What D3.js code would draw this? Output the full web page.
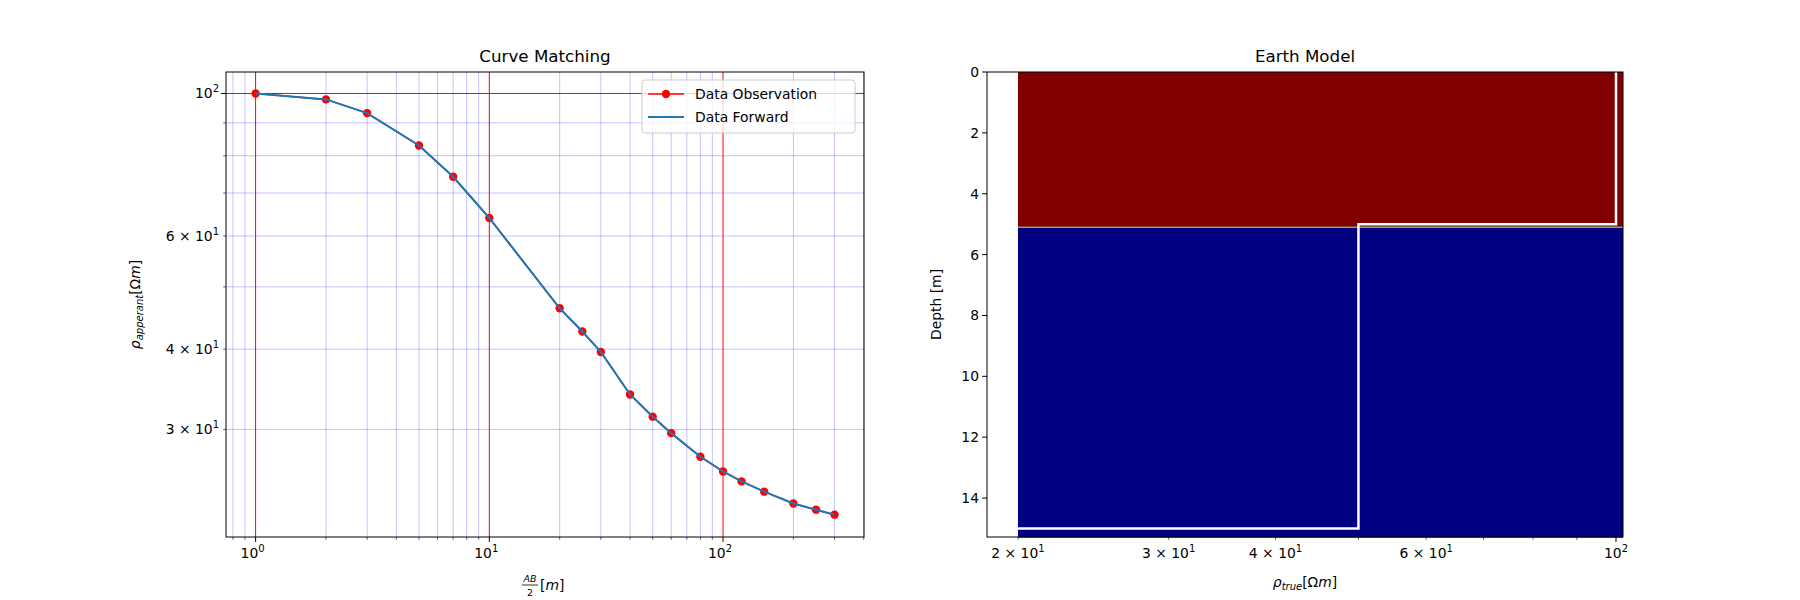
<!DOCTYPE html>
<html>
<head>
<meta charset="utf-8">
<script src="https://cdn.jsdelivr.net/npm/d3@7"></script>
<style>
  body { margin: 0; background: #fff; }
  text { font-family: "DejaVu Sans", sans-serif; }
</style>
</head>
<body>
<div id="canvas"></div>
<script>
// sounding data
const abHalf = [1, 2, 3, 5, 7, 10, 20, 25, 30, 40, 50, 60, 80, 100, 120, 150, 200, 250, 300];
const rhoObs = [100, 97.9, 93.2, 83.0, 74.2, 64.0, 46.3, 42.6, 39.6, 34.0, 31.4, 29.6, 27.2, 25.8, 24.9, 24.0, 23.0, 22.5, 22.1];
const rhoFwd = [100, 97.9, 93.2, 83.0, 74.2, 64.0, 46.3, 42.6, 39.6, 34.0, 31.4, 29.6, 27.2, 25.8, 24.9, 24.0, 23.0, 22.5, 22.1];

// earth model
const layerTop = [0, 5.1];
const layerBottom = [5.1, 15.3];
const layerColor = ["#800000", "#000080"];
const modelRho = [100, 100, 50, 50, 20];
const modelDepth = [0, 5, 5, 15, 15];

const leftXMinor = [0.8, 0.9, 2, 3, 4, 5, 6, 7, 8, 9, 20, 30, 40, 50, 60, 70, 80, 90, 200, 300, 400];
const leftXMajor = [1, 10, 100];
const leftYMinor = [30, 40, 50, 60, 70, 80, 90];
const leftYLabels = [[100, "10", "2", ""], [60, "10", "1", "6 × "], [40, "10", "1", "4 × "], [30, "10", "1", "3 × "]];
const rightXTicks = [20, 30, 40, 50, 60, 70, 80, 90, 100];
const rightXLabels = [[20, "2 × "], [30, "3 × "], [40, "4 × "], [60, "6 × "], [100, ""]];
const depthTicks = [0, 2, 4, 6, 8, 10, 12, 14];

const svg = d3.select("#canvas").append("svg").attr("width", 1800).attr("height", 600);

function supLabel(g, x, y, pre, base, sup, anchor) {
  const t = g.append("text").attr("x", x).attr("y", y).attr("text-anchor", anchor)
    .attr("font-size", 13.9).attr("fill", "#000");
  t.append("tspan").text(pre + base);
  t.append("tspan").attr("dy", -6).attr("font-size", 10).text(sup);
}

// ---------- left: curve matching ----------
const L = {x0: 226, x1: 864, y0: 72, y1: 537};
const x = d3.scaleLog().domain([0.747, 401]).range([L.x0, L.x1]);
const y = d3.scaleLog().domain([20.4, 108]).range([L.y1, L.y0]);
const g1 = svg.append("g");

g1.selectAll(".vmin").data(leftXMinor).enter().append("line")
  .attr("x1", d => x(d)).attr("x2", d => x(d)).attr("y1", L.y0).attr("y2", L.y1)
  .style("stroke", "blue").style("stroke-opacity", 0.3).style("stroke-width", 0.8);
g1.selectAll(".hmin").data(leftYMinor).enter().append("line")
  .attr("y1", d => y(d)).attr("y2", d => y(d)).attr("x1", L.x0).attr("x2", L.x1)
  .style("stroke", "blue").style("stroke-opacity", 0.3).style("stroke-width", 0.8);
g1.selectAll(".vmaj").data(leftXMajor).enter().append("line")
  .attr("x1", d => x(d)).attr("x2", d => x(d)).attr("y1", L.y0).attr("y2", L.y1)
  .style("stroke", "red").style("stroke-width", 1);
g1.append("line").attr("x1", L.x0).attr("x2", L.x1).attr("y1", y(100)).attr("y2", y(100))
  .style("stroke", "red").style("stroke-width", 1);

const line = d3.line().x(d => x(d[0])).y(d => y(d[1]));
g1.append("path").datum(abHalf.map((d, i) => [d, rhoObs[i]])).attr("d", line)
  .style("fill", "none").style("stroke", "red").style("stroke-width", 1.5);
g1.selectAll(".dot").data(abHalf).enter().append("circle")
  .attr("cx", d => x(d)).attr("cy", (d, i) => y(rhoObs[i])).attr("r", 4.2).style("fill", "red");
g1.append("path").datum(abHalf.map((d, i) => [d, rhoFwd[i]])).attr("d", line)
  .style("fill", "none").style("stroke", "#1f77b4").style("stroke-width", 2);

g1.append("rect").attr("x", L.x0).attr("y", L.y0).attr("width", L.x1 - L.x0).attr("height", L.y1 - L.y0)
  .style("fill", "none").style("stroke", "#000").style("stroke-width", 1);

// ticks
g1.selectAll(".xtmaj").data(leftXMajor).enter().append("line")
  .attr("x1", d => x(d)).attr("x2", d => x(d)).attr("y1", L.y1).attr("y2", L.y1 + 4.9).style("stroke", "#000");
g1.selectAll(".xtmin").data(leftXMinor).enter().append("line")
  .attr("x1", d => x(d)).attr("x2", d => x(d)).attr("y1", L.y1).attr("y2", L.y1 + 2.8).style("stroke", "#000").style("stroke-width", 0.6);
leftXMajor.forEach((d, i) => supLabel(g1, x(d) - 3, L.y1 + 21, "", "10", String(i), "middle"));
g1.selectAll(".ytmin").data(leftYMinor).enter().append("line")
  .attr("x1", L.x0 - 2.8).attr("x2", L.x0).attr("y1", d => y(d)).attr("y2", d => y(d)).style("stroke", "#000").style("stroke-width", 0.6);
g1.append("line").attr("x1", L.x0 - 4.9).attr("x2", L.x0).attr("y1", y(100)).attr("y2", y(100)).style("stroke", "#000");
leftYLabels.forEach(d => supLabel(g1, L.x0 - 7, y(d[0]) + 5, d[3], d[1], d[2], "end"));

g1.append("text").attr("x", (L.x0 + L.x1) / 2).attr("y", 62).attr("text-anchor", "middle")
  .attr("font-size", 16.7).text("Curve Matching");
const yl = g1.append("text").attr("transform", `translate(140,${(L.y0 + L.y1) / 2}) rotate(-90)`)
  .attr("text-anchor", "middle").attr("font-size", 13.9);
yl.append("tspan").attr("font-style", "italic").text("ρ");
yl.append("tspan").attr("font-style", "italic").attr("font-size", 10).attr("dy", 3).text("apperant");
yl.append("tspan").attr("dy", -3).text("[Ω");
yl.append("tspan").attr("font-style", "italic").text("m");
yl.append("tspan").text("]");
// x label: AB/2 [m]
const cx = (L.x0 + L.x1) / 2;
g1.append("text").attr("x", cx - 15).attr("y", 582).attr("text-anchor", "middle").attr("font-size", 9.5).attr("font-style", "italic").text("AB");
g1.append("line").attr("x1", cx - 23).attr("x2", cx - 7).attr("y1", 585).attr("y2", 585).style("stroke", "#000").style("stroke-width", 0.8);
g1.append("text").attr("x", cx - 15).attr("y", 596).attr("text-anchor", "middle").attr("font-size", 9.5).text("2");
const xl = g1.append("text").attr("x", cx - 5).attr("y", 590).attr("font-size", 13.9);
xl.append("tspan").text("[");
xl.append("tspan").attr("font-style", "italic").text("m");
xl.append("tspan").text("]");

// legend
const lg = g1.append("g").attr("transform", "translate(642,80)");
lg.append("rect").attr("width", 213).attr("height", 53).attr("rx", 3)
  .style("fill", "#fff").style("fill-opacity", 0.8).style("stroke", "#ccc");
lg.append("line").attr("x1", 6).attr("x2", 42).attr("y1", 14).attr("y2", 14).style("stroke", "red").style("stroke-width", 1.5);
lg.append("circle").attr("cx", 24).attr("cy", 14).attr("r", 4.2).style("fill", "red");
lg.append("line").attr("x1", 6).attr("x2", 42).attr("y1", 37).attr("y2", 37).style("stroke", "#1f77b4").style("stroke-width", 2);
lg.append("text").attr("x", 53).attr("y", 19).attr("font-size", 13.9).text("Data Observation");
lg.append("text").attr("x", 53).attr("y", 42).attr("font-size", 13.9).text("Data Forward");

// ---------- right: earth model ----------
const R = {x0: 987, x1: 1623, y0: 72, y1: 537};
const rx = d3.scaleLog().domain([18.4, 101.9]).range([R.x0, R.x1]);
const ry = d3.scaleLinear().domain([0, 15.28]).range([R.y0, R.y1]);
const g2 = svg.append("g");

g2.selectAll(".layer").data(layerTop).enter().append("rect")
  .attr("x", rx(20)).attr("width", R.x1 - rx(20))
  .attr("y", d => ry(d)).attr("height", (d, i) => ry(layerBottom[i]) - ry(d))
  .style("fill", (d, i) => layerColor[i]);
g2.append("line").attr("x1", rx(20)).attr("x2", R.x1).attr("y1", ry(5.1)).attr("y2", ry(5.1))
  .style("stroke", "#80ff80").style("stroke-width", 1);
g2.append("path").datum(modelRho.map((d, i) => [d, modelDepth[i]]))
  .attr("d", d3.line().x(d => rx(d[0])).y(d => ry(d[1])))
  .style("fill", "none").style("stroke", "#fff").style("stroke-width", 2.5);
g2.append("rect").attr("x", R.x0).attr("y", R.y0).attr("width", R.x1 - R.x0).attr("height", R.y1 - R.y0)
  .style("fill", "none").style("stroke", "#000").style("stroke-width", 1);

g2.selectAll(".rxt").data(rightXTicks).enter().append("line")
  .attr("x1", d => rx(d)).attr("x2", d => rx(d)).attr("y1", R.y1)
  .attr("y2", d => R.y1 + (d === 100 ? 4.9 : 2.8)).style("stroke", "#000").style("stroke-width", d => d === 100 ? 1 : 0.6);
rightXLabels.forEach(d => supLabel(g2, rx(d[0]), R.y1 + 21, d[1], "10", d[0] === 100 ? "2" : "1", "middle"));
g2.selectAll(".ryt").data(depthTicks).enter().append("line")
  .attr("x1", R.x0 - 4.9).attr("x2", R.x0).attr("y1", d => ry(d)).attr("y2", d => ry(d)).style("stroke", "#000");
g2.selectAll(".rytl").data(depthTicks).enter().append("text")
  .attr("x", R.x0 - 8).attr("y", d => ry(d) + 5).attr("text-anchor", "end").attr("font-size", 13.9).text(d => d);

g2.append("text").attr("x", (R.x0 + R.x1) / 2).attr("y", 62).attr("text-anchor", "middle")
  .attr("font-size", 16.7).text("Earth Model");
g2.append("text").attr("transform", `translate(941,${(R.y0 + R.y1) / 2}) rotate(-90)`)
  .attr("text-anchor", "middle").attr("font-size", 13.9).text("Depth [m]");
const rl = g2.append("text").attr("x", (R.x0 + R.x1) / 2).attr("y", 587).attr("text-anchor", "middle").attr("font-size", 13.9);
rl.append("tspan").attr("font-style", "italic").text("ρ");
rl.append("tspan").attr("font-style", "italic").attr("font-size", 10).attr("dy", 3).text("true");
rl.append("tspan").attr("dy", -3).text("[Ω");
rl.append("tspan").attr("font-style", "italic").text("m");
rl.append("tspan").text("]");
</script>
</body>
</html>
